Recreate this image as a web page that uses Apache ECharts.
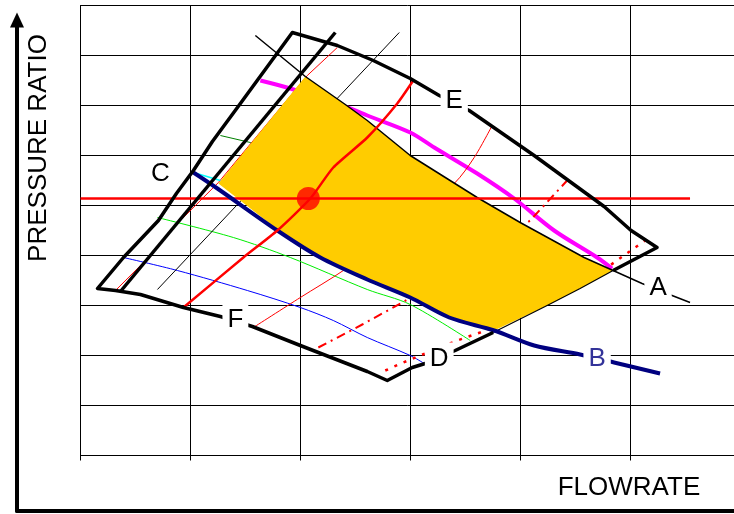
<!DOCTYPE html>
<html>
<head>
<meta charset="utf-8">
<script src="https://cdn.jsdelivr.net/npm/echarts@6/dist/echarts.min.js"></script>
<style>
  html, body { margin: 0; padding: 0; background: #fff; }
  #chart { width: 734px; height: 514px; }
</style>
</head>
<body>
<div id="chart"></div>
<script>
// axis ranges (flow 0..654 visible, grid every 110; pressure 0..450, grid every 50; no tick labels)
var xMin = 0, xMax = 654, xStep = 110;
var yMin = 0, yMax = 450, yStep = 50;

// operating region (yellow)
var regionX = [225, 265, 287, 330, 397, 440, 504, 533, 500, 467, 414, 369, 330, 287, 240, 197, 138];
var regionY = [379, 351, 335, 300, 258, 233, 198, 185, 167, 150, 125, 139, 158, 177, 199, 226, 272];

// map boundary (thick black)
var boundX = [533, 577, 551, 524, 454, 389, 359, 330, 293, 257, 212, 160, 132, 113, 96, 78, 43, 17, 35, 60, 103, 140, 172, 220, 287, 307, 332, 345, 375, 413];
var boundY = [185, 208, 225, 249, 300, 345, 360, 377, 395, 410, 423, 352, 314, 285, 262, 235, 198, 167, 165, 161, 148, 139, 129, 110, 84, 75, 88, 92, 105, 123];
var edgeX = [413, 467, 500, 533];
var edgeY = [123, 150, 167, 185];

// second surge line
var surgeX = [255, 40];
var surgeY = [423, 164];

// line A
var lineAX = [175, 225, 265, 287, 330, 397, 440, 504, 533, 562, 592, 610];
var lineAY = [420, 379, 351, 335, 300, 258, 233, 198, 185, 172, 160, 153];

// line B (navy)
var lineBX = [113, 137, 197, 240, 287, 330, 369, 414, 454, 500, 534, 580];
var lineBY = [283, 267, 225, 198, 176, 158, 138, 125, 110, 101, 93, 82];

// line E (magenta)
var lineEX = [180, 210, 270, 287, 330, 354, 397, 434, 474, 517, 532];
var lineEY = [375, 367, 347, 340, 323, 308, 282, 257, 225, 198, 187];

// speed lines
var speedBlackX = [319, 77];
var speedBlackY = [423, 166];
var speedRedX = [103, 163, 197, 230, 253, 287, 317, 333];
var speedRedY = [148, 198, 225, 257, 288, 318, 352, 375];
var redThin1X = [257, 227, 138, 100, 68, 35];
var redThin1Y = [408, 380, 273, 235, 198, 165];
var redThin2X = [173, 220, 263, 320, 374, 394, 412];
var redThin2Y = [128, 158, 185, 227, 272, 298, 330];
var dashDotX = [238, 282, 322, 390, 450, 487];
var dashDotY = [108, 131, 153, 193, 235, 275];
var dottedX = [305, 323, 340, 377, 400, 470, 527, 565];
var dottedY = [85, 93, 100, 115, 123, 155, 188, 215];

// efficiency lines
var greenX = [77, 153, 210, 287, 330, 390];
var greenY = [238, 218, 198, 166, 151, 115];
var darkGreenX = [140, 170, 200];
var darkGreenY = [320, 313, 303];
var blueX = [43, 97, 167, 220, 253, 287, 330, 344];
var blueY = [198, 185, 165, 148, 135, 118, 100, 92];
var cyanX = [113, 140];
var cyanY = [283, 275];

// operating point and its pressure ratio
var opX = [228];
var opY = [257];
var prLineX = [0, 610];
var prLineY = [257, 257];

// letter labels
var labelNames = ['C', 'E', 'A', 'B', 'D', 'F'];
var labelX = [80, 374, 578, 517, 359, 155];
var labelY = [282, 355, 168, 97, 97, 136];
var labelColors = ['#000', '#000', '#000', '#333399', '#000', '#000'];

function pts(xs, ys) {
  return xs.map(function (x, i) { return [x, ys[i]]; });
}

function line(xs, ys, color, width, type, z, smooth) {
  return {
    type: 'line',
    data: pts(xs, ys),
    showSymbol: false,
    symbol: 'none',
    silent: true,
    smooth: smooth || false,
    z: z || 2,
    lineStyle: { color: color, width: width, type: type || 'solid', cap: 'butt', join: 'round' }
  };
}

var myChart = echarts.init(document.getElementById('chart'));

var option = {
  animation: false,
  backgroundColor: '#fff',
  grid: [
    { left: 80.5, top: 5.5, right: 0, height: 450 },
    { left: 17, top: 20, right: 0, bottom: 3 }
  ],
  xAxis: [
    {
      type: 'value', gridIndex: 0, min: xMin, max: xMax, interval: xStep,
      axisLine: { show: true, lineStyle: { color: '#000', width: 1 } },
      axisTick: { show: true, length: 5, lineStyle: { color: '#000' } },
      axisLabel: { show: false },
      splitLine: { show: true, showMaxLine: false, lineStyle: { color: '#000', width: 1 } }
    },
    {
      type: 'value', gridIndex: 1, min: 0, max: 1,
      axisLine: { show: true, onZero: false, lineStyle: { color: '#000', width: 4 } },
      axisTick: { show: false }, axisLabel: { show: false }, splitLine: { show: false }
    }
  ],
  yAxis: [
    {
      type: 'value', gridIndex: 0, min: yMin, max: yMax, interval: yStep,
      axisLine: { show: true, lineStyle: { color: '#000', width: 1 } },
      axisTick: { show: false },
      axisLabel: { show: false },
      splitLine: { show: true, lineStyle: { color: '#000', width: 1 } }
    },
    {
      type: 'value', gridIndex: 1, min: 0, max: 1,
      axisLine: {
        show: true, onZero: false,
        symbol: ['none', 'triangle'], symbolSize: [14, 15],
        lineStyle: { color: '#000', width: 4 }
      },
      axisTick: { show: false }, axisLabel: { show: false }, splitLine: { show: false }
    }
  ],
  graphic: [
    {
      type: 'text', x: 39, y: 148, rotation: Math.PI / 2,
      style: { text: 'PRESSURE RATIO', font: '26px "Liberation Sans", Arial, sans-serif', fill: '#000', align: 'center', verticalAlign: 'middle' }
    },
    {
      type: 'text', x: 629, y: 488,
      style: { text: 'FLOWRATE', font: '26px "Liberation Sans", Arial, sans-serif', fill: '#000', align: 'center', verticalAlign: 'middle' }
    }
  ],
  series: [
    line(lineEX, lineEY, '#FF00FF', 4, 'solid', 2, 0.3),
    line(darkGreenX, darkGreenY, '#008000', 1),
    line(greenX, greenY, '#00EE00', 1, 'solid', 2, 0.3),
    line(blueX, blueY, '#0000FF', 1, 'solid', 2, 0.3),
    line(speedBlackX, speedBlackY, '#000', 1),
    line(redThin1X, redThin1Y, '#FF0000', 1),
    line(redThin2X, redThin2Y, '#FF0000', 1, 'solid', 2, 0.3),
    line(dashDotX, dashDotY, '#FF0000', 2, [9, 5, 2, 5]),
    line(dottedX, dottedY, '#FF0000', 2.5, [3, 7]),
    line(cyanX, cyanY, '#00FFFF', 1.5),
    {
      type: 'custom',
      silent: true,
      z: 3,
      data: pts(regionX, regionY),
      encode: { x: 0, y: 1 },
      renderItem: function (params, api) {
        if (params.dataIndex !== 0) return;
        var points = regionX.map(function (x, i) { return api.coord([x, regionY[i]]); });
        return { type: 'polygon', shape: { points: points }, style: { fill: '#FFCC00', stroke: null } };
      }
    },
    line(edgeX, edgeY, '#000', 1.2, 'solid', 4),
    line(lineAX, lineAY, '#000', 1.5, 'solid', 4),
    line(prLineX, prLineY, '#FF0000', 2.5, 'solid', 4),
    line(lineBX, lineBY, '#000080', 4, 'solid', 4, 0.3),
    line(speedRedX, speedRedY, '#FF0000', 2.5, 'solid', 4, 0.2),
    {
      type: 'scatter', silent: true, z: 5,
      data: pts(opX, opY),
      symbolSize: 23,
      itemStyle: { color: '#FF0000' }
    },
    line(surgeX, surgeY, '#000', 3.5, 'solid', 5),
    line(boundX, boundY, '#000', 3.5, 'solid', 5),
    {
      // letters on white boxes that cut the lines beneath
      type: 'custom',
      silent: true,
      z: 10,
      data: pts(labelX, labelY),
      encode: { x: 0, y: 1 },
      renderItem: function (params, api) {
        var i = params.dataIndex;
        var p = api.coord([api.value(0), api.value(1)]);
        return {
          type: 'text',
          x: p[0],
          y: p[1],
          style: {
            text: labelNames[i],
            fill: labelColors[i],
            font: '26px "Liberation Sans", Arial, sans-serif',
            align: 'center',
            verticalAlign: 'middle',
            backgroundColor: '#fff',
            padding: [4, 5, 2, 5],
            lineHeight: 26
          }
        };
      }
    }
  ]
};

myChart.setOption(option);
</script>
</body>
</html>
